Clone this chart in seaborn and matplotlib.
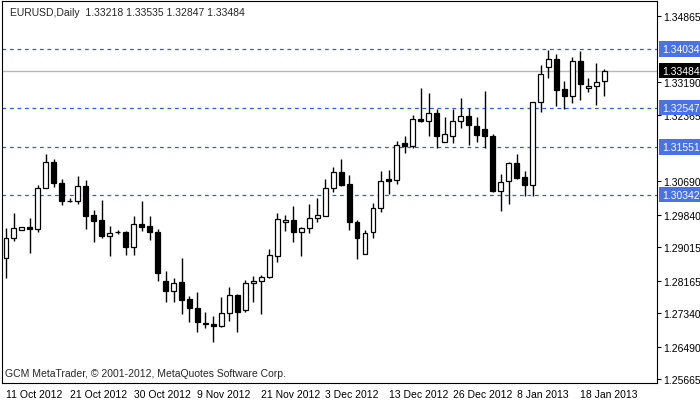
import numpy as np
import pandas as pd
import matplotlib
matplotlib.use('agg')
import matplotlib.pyplot as plt
import seaborn as sns

sns.set_style('white')
plt.rcParams['font.family'] = ['Liberation Sans', 'DejaVu Sans']

# daily EURUSD candles
opens = [1.28740, 1.29247, 1.29449, 1.29525, 1.29475, 1.30514, 1.31173, 1.30640, 1.30184, 1.30184,
         1.30564, 1.29830, 1.29703, 1.29297, 1.29399, 1.29399, 1.29019, 1.29601, 1.29551, 1.29399,
         1.28157, 1.27904, 1.28132, 1.27701, 1.27473, 1.27093, 1.27067, 1.27017, 1.27346, 1.27802,
         1.27422, 1.28106, 1.28157, 1.28258, 1.28791, 1.29652, 1.29703, 1.29399, 1.29500, 1.29754,
         1.29804, 1.30514, 1.30919, 1.30615, 1.29652, 1.28841, 1.29399, 1.30007, 1.30742, 1.30716,
         1.31654, 1.31578, 1.32262, 1.32212, 1.32414, 1.31679, 1.31831, 1.32212, 1.32338, 1.32085,
         1.32009, 1.31831, 1.30438, 1.30691, 1.31147, 1.30792, 1.30590, 1.32693, 1.33580, 1.33783,
         1.33022, 1.32845, 1.33732, 1.33048, 1.33098, 1.33218]
highs = [1.29500, 1.29880, 1.29525, 1.29754, 1.30590, 1.31375, 1.31249, 1.30742, 1.30260, 1.30818,
         1.30716, 1.29956, 1.30210, 1.29551, 1.29449, 1.29420, 1.29804, 1.30184, 1.29804, 1.29475,
         1.28411, 1.28233, 1.28740, 1.27777, 1.27878, 1.27372, 1.27270, 1.27752, 1.28005, 1.27828,
         1.28182, 1.28284, 1.28309, 1.28968, 1.29880, 1.29830, 1.30058, 1.29525, 1.30108, 1.30260,
         1.30742, 1.31046, 1.31249, 1.30843, 1.29703, 1.29449, 1.30134, 1.30945, 1.30970, 1.31705,
         1.31831, 1.32364, 1.33048, 1.32921, 1.32516, 1.32313, 1.32516, 1.32794, 1.32541, 1.32313,
         1.32972, 1.31882, 1.30868, 1.31173, 1.31375, 1.30945, 1.32693, 1.33631, 1.34011, 1.33909,
         1.33225, 1.33833, 1.33985, 1.33301, 1.33681, 1.33535]
lows = [1.28233, 1.29171, 1.29449, 1.28867, 1.29399, 1.30514, 1.30539, 1.30083, 1.30159, 1.30108,
        1.29475, 1.29145, 1.29247, 1.28791, 1.29348, 1.28816, 1.28816, 1.29424, 1.29196, 1.28157,
        1.27625, 1.27625, 1.27321, 1.27118, 1.26865, 1.26966, 1.26611, 1.26991, 1.27144, 1.26865,
        1.27372, 1.27625, 1.27321, 1.28233, 1.28639, 1.29424, 1.29145, 1.28791, 1.29373, 1.29652,
        1.29804, 1.30412, 1.30564, 1.29449, 1.28715, 1.28841, 1.29247, 1.29906, 1.30362, 1.30615,
        1.31401, 1.31527, 1.32186, 1.31831, 1.31527, 1.31679, 1.31654, 1.32034, 1.31603, 1.31679,
        1.31527, 1.30412, 1.29931, 1.30108, 1.30742, 1.30311, 1.30311, 1.32440, 1.33301, 1.32592,
        1.32516, 1.32668, 1.32744, 1.32946, 1.32617, 1.32847]
closes = [1.29247, 1.29500, 1.29525, 1.29475, 1.30514, 1.31173, 1.30640, 1.30184, 1.30190, 1.30564,
          1.29804, 1.29678, 1.29297, 1.29373, 1.29405, 1.29019, 1.29601, 1.29525, 1.29399, 1.28360,
          1.27904, 1.28106, 1.27676, 1.27473, 1.27118, 1.27067, 1.27017, 1.27346, 1.27802, 1.27372,
          1.28106, 1.28157, 1.28258, 1.28816, 1.29728, 1.29703, 1.29399, 1.29500, 1.29754, 1.29830,
          1.30514, 1.30919, 1.30590, 1.29652, 1.29247, 1.29373, 1.30007, 1.30691, 1.30691, 1.31603,
          1.31578, 1.32262, 1.32212, 1.32414, 1.31831, 1.31882, 1.32212, 1.32338, 1.32110, 1.31857,
          1.31831, 1.30438, 1.30666, 1.31147, 1.30767, 1.30590, 1.32693, 1.33402, 1.33783, 1.32997,
          1.32845, 1.33732, 1.33149, 1.33098, 1.33200, 1.33484]

date_labels = ['11 Oct 2012', '21 Oct 2012', '30 Oct 2012', '9 Nov 2012', '21 Nov 2012',
               '3 Dec 2012', '13 Dec 2012', '26 Dec 2012', '8 Jan 2013', '18 Jan 2013']
price_ticks = [1.34865, 1.33190, 1.32365, 1.30690, 1.29840, 1.29015, 1.28165, 1.27340, 1.26490, 1.25665]
levels = [1.34034, 1.32547, 1.31551, 1.30342]
last_price = 1.33484

df = pd.DataFrame({'open': opens, 'high': highs, 'low': lows, 'close': closes})
df['idx'] = np.arange(len(df))
df['up'] = df['close'] >= df['open']

fig = plt.figure(figsize=(7, 4.02), dpi=100)
ax = fig.add_axes([2 / 700, 18 / 402, 655 / 700, 382 / 402])

blue = '#2f5be0'
for lv in levels:
    ax.axhline(lv, color=blue, lw=0.9, ls=(0, (3, 3)), zorder=1)
ax.axhline(last_price, color='#b8b8b8', lw=1, zorder=1)

ax.vlines(df['idx'], df['low'], df['high'], color='black', lw=1, zorder=2)
body_lo = df[['open', 'close']].min(axis=1)
body_h = (df['close'] - df['open']).abs().clip(lower=0.00012)
ax.bar(df['idx'], body_h, bottom=body_lo, width=0.62,
       color=np.where(df['up'], 'white', 'black'), edgecolor='black', lw=0.9, zorder=3)

ax.set_xlim(-0.5, 81.6)
ax.set_ylim(1.25572, 1.35252)
ax.set_xticks(np.arange(0, 80, 8))
ax.set_xticklabels(date_labels, fontsize=7.5, ha='left')
ax.yaxis.tick_right()
ax.set_yticks(price_ticks)
ax.set_yticklabels([f'{p:.5f}' for p in price_ticks], fontsize=7.5)
ax.tick_params(axis='both', direction='out', length=3, width=0.8, colors='black', pad=1.5)
for s in ax.spines.values():
    s.set_color('black')
    s.set_linewidth(0.8)

for lv, fc in [(l, '#4a72e8') for l in levels] + [(last_price, 'black')]:
    ax.text(1.0075, lv, f'{lv:.5f}', transform=ax.get_yaxis_transform(), fontsize=7.5,
            color='white', va='center', ha='left', zorder=10,
            bbox=dict(boxstyle='square,pad=0.25', fc=fc, ec='none'))

ax.text(0.012, 0.985, 'EURUSD,Daily  1.33218 1.33535 1.32847 1.33484', transform=ax.transAxes,
        fontsize=7.5, va='top', ha='left')
ax.text(0.005, 0.012, 'GCM MetaTrader, © 2001-2012, MetaQuotes Software Corp.', transform=ax.transAxes,
        fontsize=7.5, va='bottom', ha='left')

fig.savefig('out.png', dpi=100)
